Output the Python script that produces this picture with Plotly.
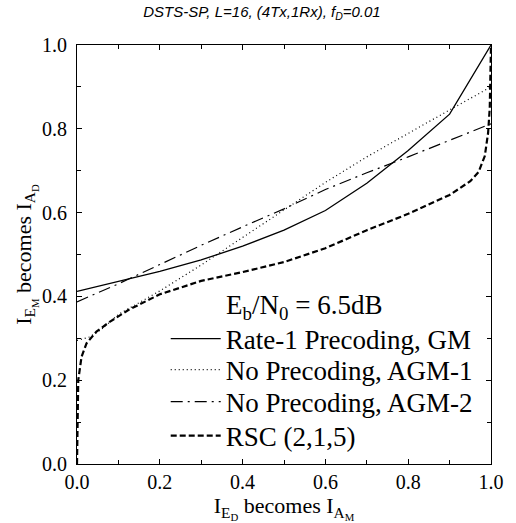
import plotly.graph_objects as go

# ---- data ----
gm_x = [0.0, 0.1, 0.2, 0.3, 0.4, 0.5, 0.6, 0.7, 0.8, 0.9, 1.0]
gm_y = [0.412, 0.436, 0.460, 0.487, 0.520, 0.558, 0.605, 0.670, 0.748, 0.835, 1.0]

agm1_x = [0.0, 0.03, 0.06, 0.1, 0.15, 0.2, 0.3, 0.4, 0.5, 0.6, 0.7, 0.8, 0.9, 1.0]
agm1_y = [0.295, 0.303, 0.322, 0.357, 0.385, 0.413, 0.475, 0.540, 0.607, 0.672, 0.733, 0.790, 0.845, 0.900]

agm2_x = [0.0, 0.1, 0.2, 0.3, 0.4, 0.5, 0.6, 0.7, 0.8, 0.9, 1.0]
agm2_y = [0.387, 0.430, 0.476, 0.522, 0.566, 0.609, 0.655, 0.695, 0.733, 0.772, 0.812]

rsc_x = [0.0, 0.001, 0.003, 0.011, 0.023, 0.047, 0.08, 0.125, 0.2, 0.3, 0.4, 0.5, 0.6,
         0.7, 0.8, 0.9, 0.95, 0.97, 0.985, 0.993, 0.997, 1.0]
rsc_y = [0.0, 0.10, 0.20, 0.256, 0.288, 0.316, 0.340, 0.368, 0.405, 0.437, 0.458, 0.482,
         0.515, 0.558, 0.597, 0.642, 0.675, 0.697, 0.735, 0.790, 0.850, 1.0]

names = ["Rate-1 Precoding, GM", "No Precoding, AGM-1", "No Precoding, AGM-2", "RSC (2,1,5)"]
header = "E<sub>b</sub>/N<sub>0</sub> = 6.5dB"
title = "DSTS-SP, L=16, (4Tx,1Rx), f<sub>D</sub>=0.01"
xtitle = "I<sub>E<sub>D</sub></sub> becomes I<sub>A<sub>M</sub></sub>"
ytitle = "I<sub>E<sub>M</sub></sub> becomes I<sub>A<sub>D</sub></sub>"
tick_vals = [0.0, 0.2, 0.4, 0.6, 0.8, 1.0]
tick_text = ["0.0", "0.2", "0.4", "0.6", "0.8", "1.0"]

SERIF = "Liberation Serif, Times New Roman, DejaVu Serif, serif"

fig = go.Figure()
series = [
    (gm_x, gm_y, dict(color="black", width=1.3, dash="solid"), "legend"),
    (agm1_x, agm1_y, dict(color="black", width=1.2, dash="1px,3px"), "legend2"),
    (agm2_x, agm2_y, dict(color="black", width=1.2, dash="12px,5px,2px,5px"), "legend3"),
    (rsc_x, rsc_y, dict(color="black", width=2.2, dash="6px,3px"), "legend4"),
]
for (xs, ys, ln, lg), nm in zip(series, names):
    fig.add_trace(go.Scatter(x=xs, y=ys, mode="lines", line=ln, name=nm, legend=lg))

L, R, T, B = 77, 19, 45, 59
W, H = 516, 523
pw, ph = W - L - R, H - T - B

def px2paper_x(px):
    return (px - L) / pw

def px2paper_y(py):
    return (H - B - py) / ph

leg_rows = [339, 370, 402, 436]
leg_common = dict(bgcolor="rgba(0,0,0,0)", borderwidth=0, xanchor="left", yanchor="middle",
                  font=dict(family=SERIF, size=27, color="black"), itemwidth=50)
lx = px2paper_x(167)
layout_legends = {}
for i, row in enumerate(leg_rows):
    key = "legend" if i == 0 else f"legend{i+1}"
    layout_legends[key] = dict(x=lx, y=px2paper_y(row), **leg_common)

axis_common = dict(
    range=[0, 1], tickvals=tick_vals, ticktext=tick_text, ticks="inside", ticklen=5,
    tickcolor="black", showline=True, linecolor="black", linewidth=1, mirror="ticks",
    showgrid=False, zeroline=False,
    tickfont=dict(family=SERIF, size=20, color="black"),
    minor=dict(dtick=0.1, ticks="inside", ticklen=4, tickcolor="black", showgrid=False),
)

fig.update_layout(
    width=W, height=H, margin=dict(l=L, r=R, t=T, b=B),
    plot_bgcolor="white", paper_bgcolor="white", showlegend=True,
    title=dict(text=title, x=262 / W, xref="container", xanchor="center",
               y=1 - 12 / H, yref="container", yanchor="middle",
               font=dict(family="Liberation Sans, Arial, sans-serif", size=15, style="italic",
                         color="black")),
    xaxis=dict(title=dict(text=xtitle, font=dict(family=SERIF, size=22, color="black"), standoff=2),
               **axis_common),
    yaxis=dict(title=dict(text=ytitle, font=dict(family=SERIF, size=22, color="black"), standoff=4),
               ticklabelstandoff=5, **axis_common),
    annotations=[dict(text=header, xref="paper", yref="paper", x=px2paper_x(226),
                      y=px2paper_y(307), xanchor="left", yanchor="middle", showarrow=False,
                      font=dict(family=SERIF, size=27, color="black"))],
    **layout_legends,
)

fig.write_html("out.html", config=dict(displayModeBar=False))
